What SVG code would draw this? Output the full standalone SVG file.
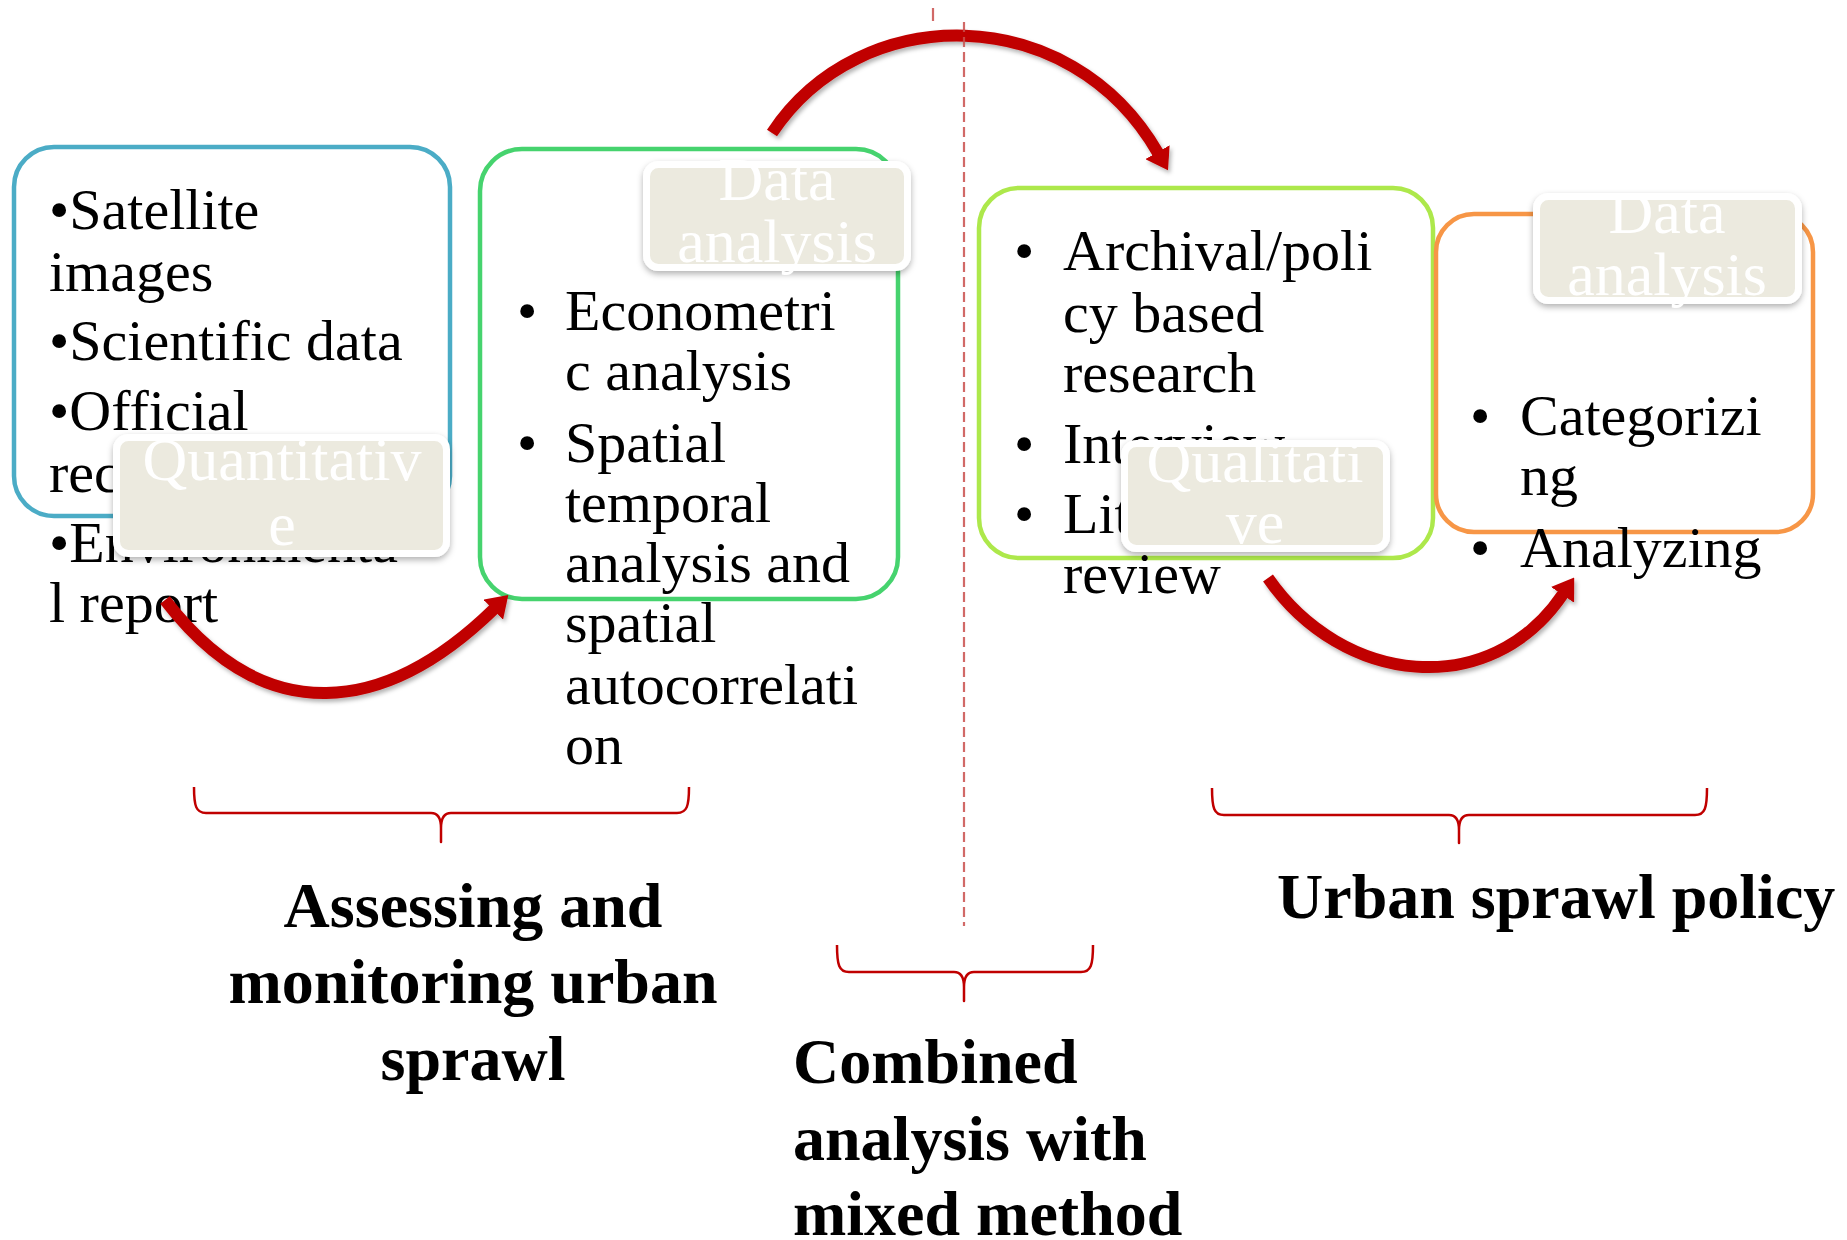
<svg xmlns="http://www.w3.org/2000/svg" width="1847" height="1240" viewBox="0 0 1847 1240">
  <style>
    .body { font-family: "Liberation Serif", "Times New Roman", serif; font-size: 58px; fill: #000; }
    .tag { font-family: "Liberation Serif", "Times New Roman", serif; font-size: 62px; fill: #fff; text-anchor: middle; }
    .title { font-family: "Liberation Serif", "Times New Roman", serif; font-size: 64px; font-weight: bold; fill: #000; }
    .frame { fill: #fff; stroke-width: 4.5; }
    .tagbox { fill: #ECEADF; stroke: #fff; stroke-width: 7; filter: url(#softShadow); }
    .flow { fill: none; stroke: #C00000; stroke-width: 12; marker-end: url(#arrowHead); filter: url(#arcShadow); }
    .brace { fill: none; stroke: #C00000; stroke-width: 2.5; stroke-linejoin: round; }
    .divider { stroke: #C9504D; stroke-width: 2.2; opacity: 0.85; }
  </style>
  <defs>
    <filter id="softShadow" x="-10%" y="-20%" width="120%" height="150%">
      <feDropShadow dx="0" dy="3" stdDeviation="3" flood-color="#000" flood-opacity="0.3"/>
    </filter>
    <filter id="arcShadow" x="-10%" y="-10%" width="120%" height="130%">
      <feDropShadow dx="2" dy="3" stdDeviation="2" flood-color="#000" flood-opacity="0.3"/>
    </filter>
    <marker id="arrowHead" markerUnits="userSpaceOnUse" viewBox="0 0 21 28" markerWidth="21" markerHeight="28" refX="1" refY="14" orient="auto">
      <path d="M0,0 L21,14 L0,28 z" fill="#C00000"/>
    </marker>
  </defs>

  <rect width="1847" height="1240" fill="#fff"/>

  <!-- Quantitative data sources -->
  <g id="node-quantitative">
    <rect class="frame" x="14" y="147" width="436" height="369" rx="40" stroke="#4BACC6"/>
    <text class="body" x="49" y="229">•Satellite</text>
    <text class="body" x="49" y="291">images</text>
    <text class="body" x="49" y="360">•Scientific data</text>
    <text class="body" x="49" y="430">•Official</text>
    <text class="body" x="49" y="492">records</text>
    <text class="body" x="49" y="562">•Environmenta</text>
    <text class="body" x="49" y="622">l report</text>
    <rect class="tagbox" x="116.5" y="437.5" width="330" height="116" rx="12"/>
    <text class="tag" x="282" y="480">Quantitativ</text>
    <text class="tag" x="282" y="545">e</text>
  </g>

  <!-- Quantitative data analysis -->
  <g id="node-quant-analysis">
    <rect class="frame" x="480" y="149" width="418" height="450" rx="42" stroke="#46D36E"/>
    <text class="body" x="517" y="330">•</text>
    <text class="body" x="565" y="330">Econometri</text>
    <text class="body" x="565" y="390">c analysis</text>
    <text class="body" x="517" y="462">•</text>
    <text class="body" x="565" y="462">Spatial</text>
    <text class="body" x="565" y="522">temporal</text>
    <text class="body" x="565" y="582">analysis and</text>
    <text class="body" x="565" y="642">spatial</text>
    <text class="body" x="565" y="704">autocorrelati</text>
    <text class="body" x="565" y="764">on</text>
    <rect class="tagbox" x="646.5" y="164.5" width="261" height="103" rx="12"/>
    <text class="tag" x="777" y="200">Data</text>
    <text class="tag" x="777" y="262">analysis</text>
  </g>

  <!-- Qualitative data sources -->
  <g id="node-qualitative">
    <rect class="frame" x="979" y="188" width="454" height="370" rx="40" stroke="#ADE84B"/>
    <text class="body" x="1014" y="270">•</text>
    <text class="body" x="1063" y="270">Archival/poli</text>
    <text class="body" x="1063" y="332">cy based</text>
    <text class="body" x="1063" y="392">research</text>
    <text class="body" x="1014" y="463">•</text>
    <text class="body" x="1063" y="463">Interview</text>
    <text class="body" x="1014" y="533">•</text>
    <text class="body" x="1063" y="533">Literature</text>
    <text class="body" x="1063" y="593">review</text>
    <rect class="tagbox" x="1124.5" y="443.5" width="262" height="105" rx="12"/>
    <text class="tag" x="1255" y="482">Qualitati</text>
    <text class="tag" x="1255" y="543">ve</text>
  </g>

  <!-- Qualitative data analysis -->
  <g id="node-qual-analysis">
    <rect class="frame" x="1436" y="214" width="377" height="318" rx="38" stroke="#F79646"/>
    <text class="body" x="1470" y="435">•</text>
    <text class="body" x="1520" y="435">Categorizi</text>
    <text class="body" x="1520" y="495">ng</text>
    <text class="body" x="1470" y="567">•</text>
    <text class="body" x="1520" y="567">Analyzing</text>
    <rect class="tagbox" x="1536.5" y="196.5" width="262" height="104" rx="12"/>
    <text class="tag" x="1667" y="233">Data</text>
    <text class="tag" x="1667" y="295">analysis</text>
  </g>

  <!-- Curved flow arrows -->
  <g id="connectors">
    <path class="flow" d="M165,600 C265,730 385,715 494,609"/>
    <path class="flow" d="M772,133 C860,0 1070,0 1158,153"/>
    <path class="flow" d="M1268,578 C1342,685 1490,702 1563,594"/>
  </g>

  <!-- Centre divider -->
  <g id="divider">
    <line class="divider" x1="933" y1="8" x2="933" y2="21"/>
    <line class="divider" x1="964" y1="22" x2="964" y2="926" stroke-dasharray="10 5"/>
  </g>

  <!-- Group braces -->
  <g id="braces">
    <path class="brace" d="M194,787 C194,806 196,813 206,813 L431,813 C438,813 441,818 441,828 L441,842 L441,828 C441,818 444,813 451,813 L677,813 C687,813 689,806 689,787"/>
    <path class="brace" d="M837,945 C837,965 839,972 849,972 L954,972 C961,972 964,977 964,987 L964,1001 L964,987 C964,977 967,972 974,972 L1081,972 C1091,972 1093,965 1093,945"/>
    <path class="brace" d="M1212,788 C1212,808 1214,815 1224,815 L1449,815 C1456,815 1459,820 1459,830 L1459,843 L1459,830 C1459,820 1462,815 1469,815 L1695,815 C1705,815 1707,808 1707,788"/>
  </g>

  <!-- Group titles -->
  <g id="label-assessing">
    <text class="title" x="473" y="927" text-anchor="middle">Assessing and</text>
    <text class="title" x="473" y="1003" text-anchor="middle">monitoring urban</text>
    <text class="title" x="473" y="1080" text-anchor="middle">sprawl</text>
  </g>
  <g id="label-combined">
    <text class="title" x="793" y="1083">Combined</text>
    <text class="title" x="793" y="1160">analysis with</text>
    <text class="title" x="793" y="1235">mixed method</text>
  </g>
  <g id="label-policy">
    <text class="title" x="1277" y="918">Urban sprawl policy</text>
  </g>
</svg>
